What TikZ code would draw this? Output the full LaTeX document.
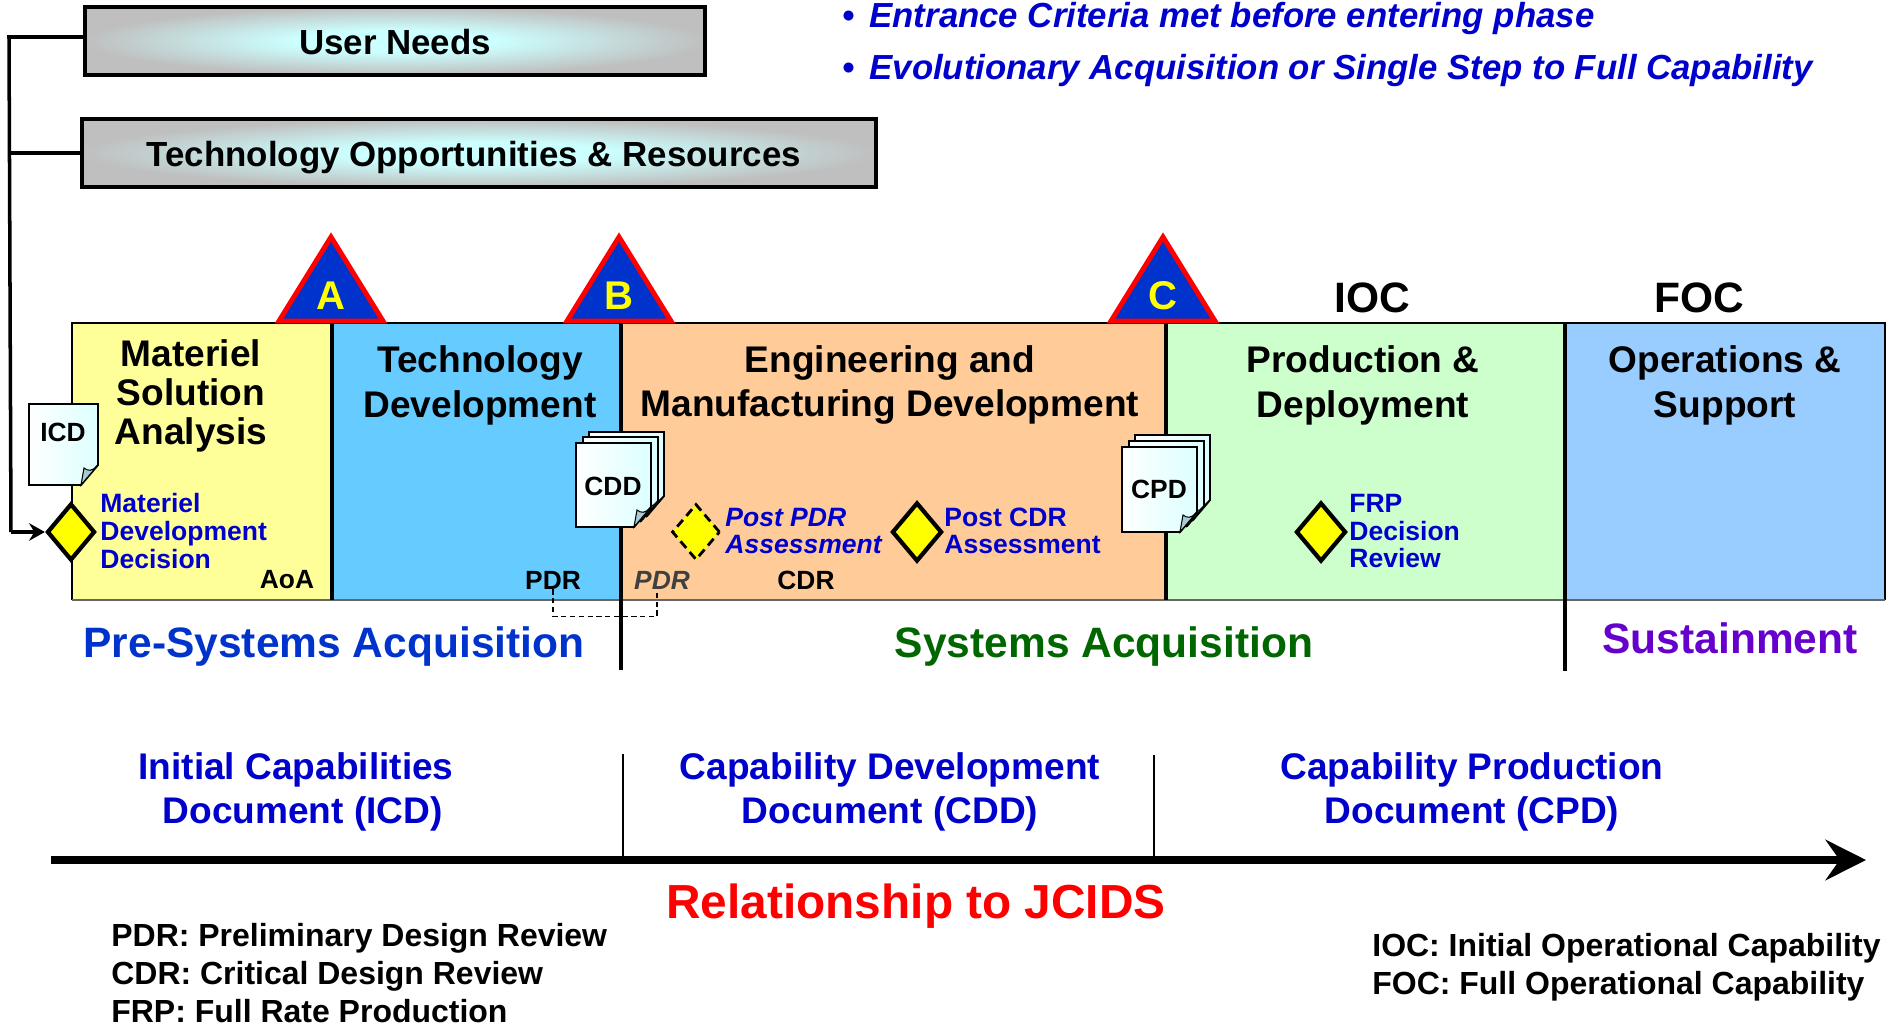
\documentclass[tikz,border=0pt]{standalone}
\usepackage{fontspec}
\setmainfont{Liberation Sans}
\usetikzlibrary{shapes.geometric,arrows.meta}
\definecolor{msaclr}{HTML}{FFFF99}
\definecolor{tdclr}{HTML}{66CCFF}
\definecolor{emdclr}{HTML}{FFCC99}
\definecolor{pdclr}{HTML}{CCFFCC}
\definecolor{osclr}{HTML}{99CCFF}
\definecolor{navy}{HTML}{0000CC}
\definecolor{royal}{HTML}{0033CC}
\definecolor{dkgreen}{HTML}{006600}
\definecolor{violet}{HTML}{6600CC}
\definecolor{foldclr}{HTML}{A9CCD4}
\definecolor{brightyellow}{HTML}{FFFF00}
\definecolor{glowclr}{HTML}{CCFFFF}
\definecolor{pageclr}{HTML}{DCFFFF}
\definecolor{boxgray}{HTML}{BFBFBF}
\pgfdeclareradialshading{inputglow}{\pgfpoint{0bp}{0bp}}{%
  color(0bp)=(glowclr); color(8bp)=(glowclr); color(25bp)=(boxgray); color(50bp)=(boxgray)}
\tikzset{
  x=0.02cm,y=-0.02cm,
  inputbox/.style={draw,line width=2.3pt,shading=inputglow,inner sep=0pt,text height=15.5pt,text depth=0pt,
    font=\bfseries\fontsize{19.85}{24}\selectfont},
  phasetxt/.style={align=center,inner sep=0pt,font=\bfseries\fontsize{21.1}{25.6}\selectfont},
  msatxt/.style={align=center,inner sep=0pt,font=\bfseries\fontsize{21.1}{22}\selectfont},
  reviewtxt/.style={align=left,anchor=west,inner sep=0pt,text=navy,font=\bfseries\fontsize{15.1}{15.7}\selectfont},
  smalltxt/.style={inner sep=0pt,font=\bfseries\fontsize{15}{18}\selectfont},
  groundtxt/.style={inner sep=0pt,font=\bfseries\fontsize{24.2}{29}\selectfont},
  jcidstxt/.style={align=center,inner sep=0pt,text=navy,font=\bfseries\fontsize{21.1}{25.4}\selectfont},
  keytxt/.style={align=left,anchor=west,inner sep=0pt,font=\bfseries\fontsize{18.2}{21.7}\selectfont},
  notetxt/.style={anchor=west,inner sep=0pt,text=navy,font=\bfseries\itshape\fontsize{19.8}{24}\selectfont},
  review/.style={diamond,draw,fill=brightyellow,line width=2.4pt,inner sep=0pt,minimum width=0.96cm,minimum height=1.14cm},
  milestone/.style={inner sep=0pt,text=brightyellow,font=\bfseries\fontsize{22.8}{27}\selectfont},
  feed/.style={line width=2pt},
}
\newcommand{\docpage}[4]{% x, y, width, height
  \path[draw,line width=1.1pt,left color=white,right color=pageclr]
    (#1,#2) -- ({#1+#3},#2) -- ({#1+#3},{#2+#4-20}) -- ({#1+#3-17},{#2+#4}) -- (#1,{#2+#4}) -- cycle;
  \path[draw,line width=0.6pt,fill=foldclr]
    ({#1+#3},{#2+#4-20}) .. controls ({#1+#3-6},{#2+#4-13}) and ({#1+#3-10},{#2+#4-14}) .. ({#1+#3-14},{#2+#4-17})
    -- ({#1+#3-17},{#2+#4}) -- cycle;
}
\begin{document}
\begin{tikzpicture}
  \useasboundingbox (0,0) rectangle (1892,1027);
  % phase bands
  \foreach \xa/\xb/\clr in {72/332/msaclr,332/621/tdclr,621/1166/emdclr,1166/1565/pdclr,1565/1885/osclr}
    \fill[\clr] (\xa,323) rectangle (\xb,600);
  \draw[line width=0.7pt] (72,600) -- (72,323) -- (1885,323) -- (1885,600);
  \draw[line width=1pt,black!60] (72,600) -- (1885,600);
  % inputs
  \node[inputbox,minimum width=12.4cm,minimum height=1.36cm] (user) at (395,41) {User Needs};
  \node[inputbox,minimum width=15.9cm,minimum height=1.36cm] (tech) at (479,153) {Technology Opportunities \& Resources\hbox{\kern6pt}};
  \node[notetxt] (note1) at (842,19) {\textbullet\hspace{8.5pt}Entrance Criteria met before entering phase};
  \node[notetxt] (note2) at (842,71) {\textbullet\hspace{8.5pt}Evolutionary Acquisition or Single Step to Full Capability};
  % milestones
  \foreach \xc/\lbl in {331/A,619/B,1163/C}{
    \draw[red,fill=royal,line width=2.8pt,line join=miter] (\xc,237) -- (\xc+52,321) -- (\xc-52,321) -- cycle;
    \node[milestone] (ms\lbl) at (\xc,296) {\lbl};
  }
  \foreach \xa/\yb in {332/600,1166/600}
    \draw[line width=2pt] (\xa,323) -- (\xa,\yb);
  \draw[line width=2.2pt] (621,323) -- (621,670);
  \draw[line width=2.2pt] (1565,323) -- (1565,671);
  \node[inner sep=0pt,font=\bfseries\fontsize{24.2}{29}\selectfont] (ioc) at (1372,298) {IOC};
  \node[inner sep=0pt,font=\bfseries\fontsize{24.2}{29}\selectfont] (foc) at (1699,298) {FOC};
  % phase titles
  \node[msatxt] (msa) at (191,396) {Materiel\\Solution\\Analysis};
  \node[phasetxt] (td) at (480,385) {Technology\\Development};
  \node[phasetxt] (emd) at (890,385) {Engineering and\\Manufacturing Development};
  \node[phasetxt] (pd) at (1363,385) {Production \&\\Deployment};
  \node[phasetxt] (os) at (1725,385) {Operations \&\\Support};
  % documents
  \docpage{29}{404}{69}{81}
  \node[smalltxt] (icd) at (63,432) {ICD};
  \docpage{589}{432}{75}{84}
  \docpage{583}{437}{75}{84}
  \docpage{576}{443}{75}{84}
  \node[smalltxt] (cdd) at (613,486) {CDD};
  \docpage{1135}{435}{75}{85}
  \docpage{1129}{441}{75}{85}
  \docpage{1122}{447}{75}{85}
  \node[smalltxt] (cpd) at (1159,489) {CPD};
  % reviews
  \node[review] (mdd) at (71,532) {};
  \node[review,dash pattern=on 5pt off 3pt,line width=1.6pt,minimum height=1.12cm] (ppdr) at (696,532) {};
  \node[review,minimum width=1cm,minimum height=1.18cm] (pcdr) at (917,532) {};
  \node[review,minimum width=1cm,minimum height=1.18cm] (frp) at (1321,532) {};
  \node[reviewtxt] (mddtxt) at (100,531) {Materiel\\Development\\Decision};
  \node[reviewtxt,font=\bfseries\itshape\fontsize{15.1}{15.7}\selectfont] (ppdrtxt) at (725,531) {Post PDR\\Assessment};
  \node[reviewtxt] (pcdrtxt) at (944,531) {Post CDR\\Assessment};
  \node[reviewtxt] (frptxt) at (1349,531) {FRP\\Decision\\Review};
  \node[smalltxt] (aoa) at (287,580) {AoA};
  \node[smalltxt] (pdrA) at (553,580) {PDR};
  \node[smalltxt,font=\bfseries\itshape\fontsize{15}{18}\selectfont,text=black!75] (pdrB) at (662,580) {PDR};
  \node[smalltxt] (cdr) at (806,580) {CDR};
  \draw[dash pattern=on 3pt off 2pt,line width=0.8pt] (pdrA.south) -- ++(0,27) -| ([xshift=-0.1cm]pdrB.south);
  % inputs feed
  \coordinate (busTop) at (9,37);
  \coordinate (busBot) at (11,532);
  \draw[feed] (user.west|-busTop) -- (busTop) -- (busBot);
  \draw[feed,-{Stealth[length=9pt,width=10pt,inset=3pt]}] (busBot) -- (mdd.west);
  \draw[feed] (tech.west) -- (tech.west-|busTop);
  % acquisition groups
  \node[groundtxt,text=royal] (pre) at (334,647) {Pre-Systems Acquisition};
  \node[groundtxt,text=dkgreen] (sys) at (1104,647) {Systems Acquisition};
  \node[groundtxt,text=violet] (sus) at (1730,638) {Sustainment};
  % JCIDS
  \node[jcidstxt] (jicd) at (296,792) {Initial Capabilities\\\hspace*{7.6pt}Document (ICD)};
  \node[jcidstxt] (jcdd) at (890,792) {Capability Development\\Document (CDD)};
  \node[jcidstxt] (jcpd) at (1472,792) {Capability Production\\Document (CPD)};
  \coordinate (jcStart) at (51,860);
  \coordinate (jcEnd) at (1866,860);
  \draw[line width=4.2pt,-{Stealth[length=23pt,width=23pt,inset=8pt]}] (jcStart) -- (jcEnd);
  \draw[line width=0.8pt] (623,754) -- (623,856);
  \draw[line width=0.8pt] (1154,755) -- (1154,856);
  \node[inner sep=0pt,text=red,font=\bfseries\fontsize{27.2}{32}\selectfont] (rel) at (916,906) {Relationship to JCIDS};
  % keys
  \node[keytxt] (keyL) at (111,973) {PDR: Preliminary Design Review\\CDR: Critical Design Review\\FRP: Full Rate Production};
  \node[keytxt] (keyR) at (1372,967) {IOC: Initial Operational Capability\\FOC: Full Operational Capability};
\end{tikzpicture}
\end{document}
